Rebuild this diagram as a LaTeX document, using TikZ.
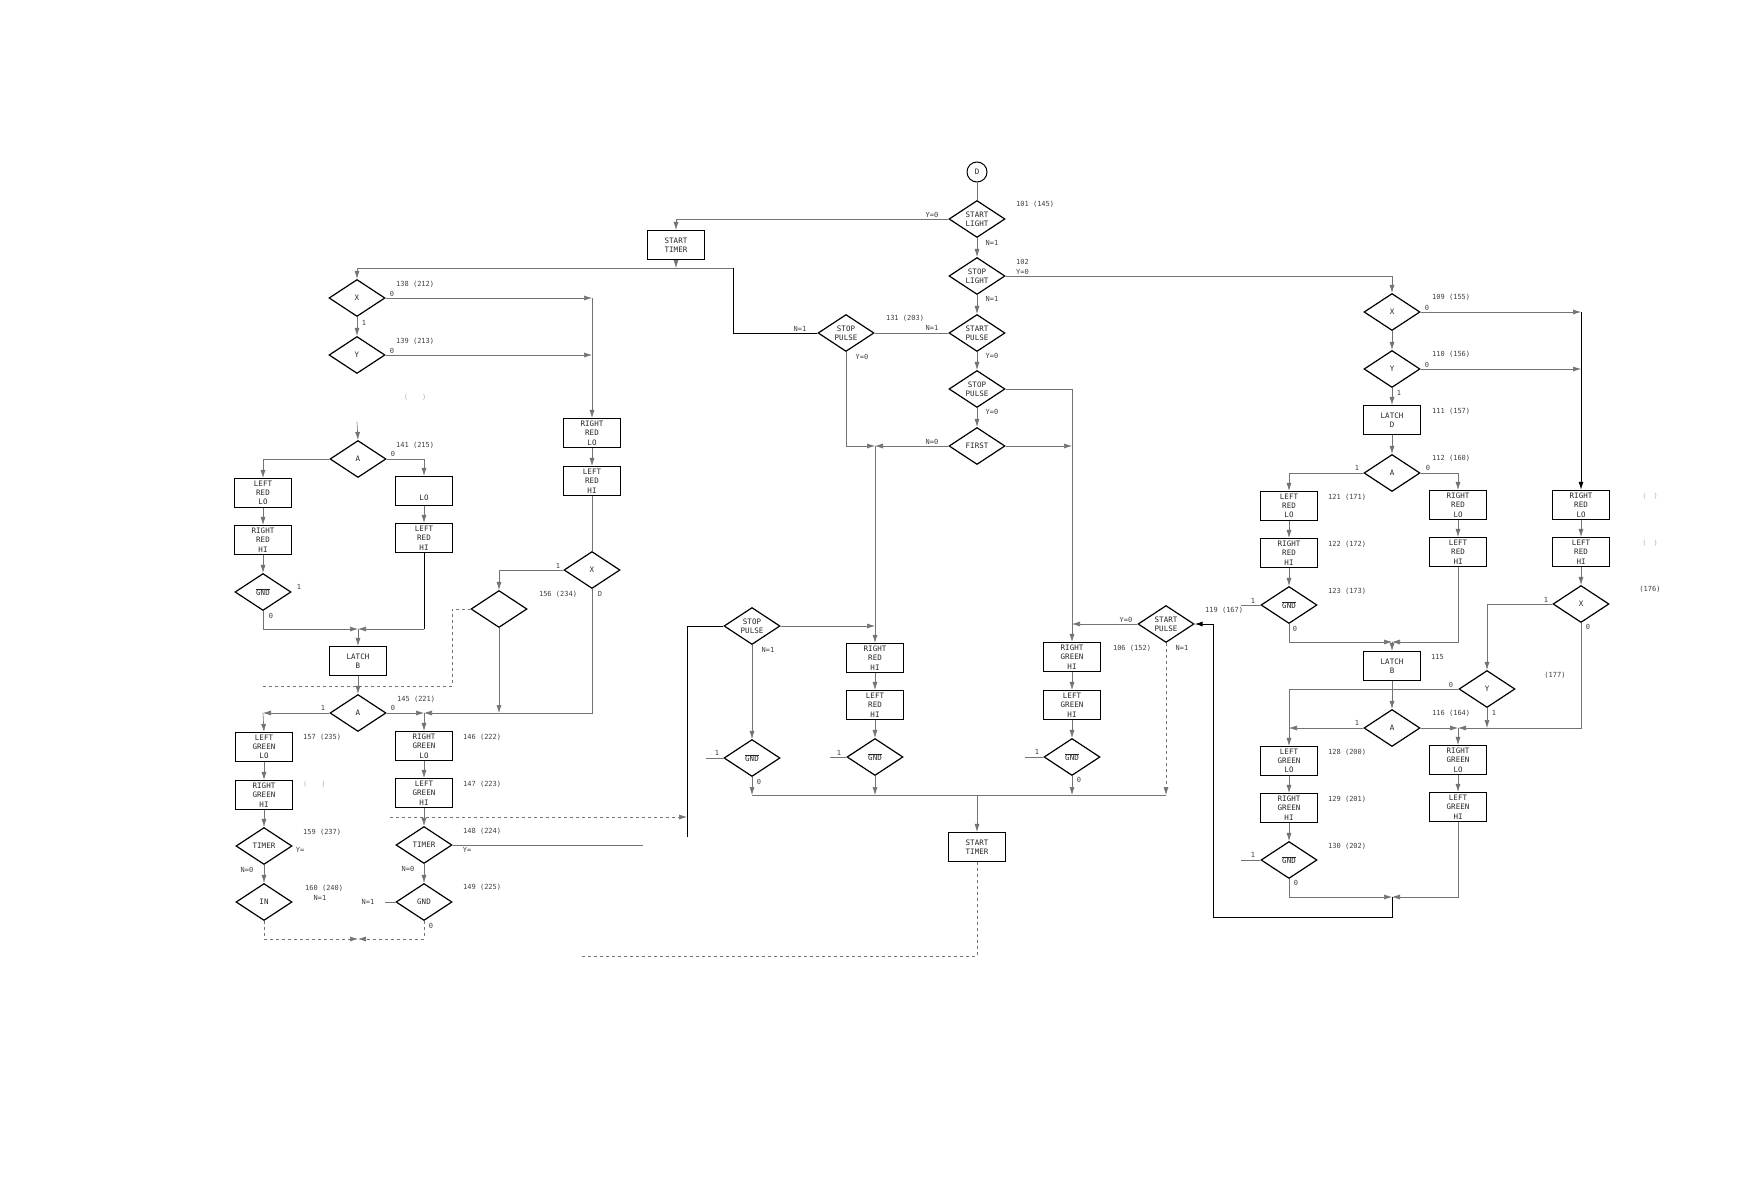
\documentclass[tikz,border=0pt]{standalone}
\usepackage{fontspec}
\usetikzlibrary{arrows.meta,shapes.geometric,calc}
\newfontfamily\lblfont{DejaVu Sans Mono}
\newcommand{\gndbar}{$\overline{\hbox{GND}}$}
\begin{document}
\begin{tikzpicture}[x=1pt,y=-1pt,
  every node/.style={font=\lblfont\fontsize{7.5}{9.3}\selectfont, text=black!85},
  box/.style={draw=black, line width=1.2pt, rectangle, minimum width=57pt, minimum height=29pt, inner sep=0pt, align=center},
  dia/.style={draw=black, line width=1.2pt, diamond, aspect=1.5, minimum width=56pt, minimum height=37pt, inner sep=0pt, align=center},
  conn/.style={draw=black!55, line width=0.6pt},
  bold/.style={draw=black, line width=1pt},
  arr/.style={conn, -{Latex[length=8pt,width=5pt]}},
  barr/.style={bold, -{Latex[length=8pt,width=5pt]}},
  lab/.style={inner sep=0pt, text=black!75, font=\lblfont\fontsize{7}{8}\selectfont},
  faint/.style={lab, text=black!30},
]
\useasboundingbox[fill=white] (0,0) rectangle (1754,1188);

% ---------- main column ----------
\node[draw, circle, line width=1pt, minimum size=20pt, inner sep=0pt] (D) at (977,172) {D};
\node[dia] (sl1) at (977,219) {START\\LIGHT};
\node[dia] (sl2) at (977,276) {STOP\\LIGHT};
\node[dia] (sp1) at (977,333) {START\\PULSE};
\node[dia] (sp2) at (977,389) {STOP\\PULSE};
\node[dia] (first) at (977,446) {FIRST};
\node[box] (st1) at (676,245) {START\\TIMER};
\node[dia] (spL) at (846,333) {STOP\\PULSE};
\node[box] (st2) at (977,847) {START\\TIMER};

% ---------- middle ----------
\node[dia] (spL2) at (752,626) {STOP\\PULSE};
\node[box] (rrhiC) at (875,658) {RIGHT\\RED\\HI};
\node[box] (lrhiC) at (875,705) {LEFT\\RED\\HI};
\node[dia] (gndC1) at (752,758) {\gndbar};
\node[dia] (gndC2) at (875,757) {\gndbar};

% ---------- right part ----------
\node[dia] (x109) at (1392,312) {X};
\node[dia] (y110) at (1392,369) {Y};
\node[box] (latchD) at (1392,420) {LATCH\\D};
\node[dia] (a112) at (1392,473) {A};
\node[box] (rrlo1) at (1458,505) {RIGHT\\RED\\LO};
\node[box] (lrhi1) at (1458,552) {LEFT\\RED\\HI};
\node[box] (lrlo2) at (1289,506) {LEFT\\RED\\LO};
\node[box] (rrhi2) at (1289,553) {RIGHT\\RED\\HI};
\node[dia] (gnd123) at (1289,605) {\gndbar};
\node[box] (latchB2) at (1392,666) {LATCH\\B};
\node[dia] (a116) at (1392,728) {A};
\node[box] (rglo) at (1458,760) {RIGHT\\GREEN\\LO};
\node[box] (lghi) at (1458,807) {LEFT\\GREEN\\HI};
\node[box] (lglo) at (1289,761) {LEFT\\GREEN\\LO};
\node[box] (rghi2) at (1289,808) {RIGHT\\GREEN\\HI};
\node[dia] (gnd130) at (1289,860) {\gndbar};
\node[box] (rrlo3) at (1581,505) {RIGHT\\RED\\LO};
\node[box] (lrhi3) at (1581,552) {LEFT\\RED\\HI};
\node[dia] (x3) at (1581,604) {X};
\node[dia] (y3) at (1487,689) {Y};
\node[dia] (sp106) at (1166,624) {START\\PULSE};
\node[box] (rghi) at (1072,657) {RIGHT\\GREEN\\HI};
\node[box] (lghi106) at (1072,705) {LEFT\\GREEN\\HI};
\node[dia] (gnd106) at (1072,757) {\gndbar};

% ---------- left part ----------
\node[dia] (x138) at (357,298) {X};
\node[dia] (y139) at (357,355) {Y};
\node[dia] (a141) at (358,459) {A};
\node[box] (llroL) at (263,493) {LEFT\\RED\\LO};
\node[box] (rrhiL2) at (263,540) {RIGHT\\RED\\HI};
\node[dia] (gndL) at (263,592) {\gndbar};
\node[box] (loBox) at (424,491) {~\\~\\LO};
\node[box] (lrhiL2) at (424,538) {LEFT\\RED\\HI};
\node[box] (rrloL) at (592,433) {RIGHT\\RED\\LO};
\node[box] (lrhiL) at (592,481) {LEFT\\RED\\HI};
\node[dia] (xL) at (592,570) {X};
\node[dia] (blank) at (499,609) {};
\node[box] (latchB) at (358,661) {LATCH\\B};
\node[dia] (a145) at (358,713) {A};
\node[box] (lgloL) at (264,747) {LEFT\\GREEN\\LO};
\node[box] (rghiL) at (264,795) {RIGHT\\GREEN\\HI};
\node[dia] (timerL) at (264,846) {TIMER};
\node[dia] (inL) at (264,902) {IN};
\node[box] (rgloL) at (424,746) {RIGHT\\GREEN\\LO};
\node[box] (lghiL) at (424,793) {LEFT\\GREEN\\HI};
\node[dia] (timerR) at (424,845) {TIMER};
\node[dia] (gnd149) at (424,902) {GND};

% ---------- coordinates ----------
\coordinate (jT) at (676,268);
\coordinate (cL) at (733,268);
\coordinate (jF) at (875,446);
\coordinate (jB) at (1392,642);
\coordinate (jG) at (1458,728);
\coordinate (jE) at (1392,897);
\coordinate (lpA) at (1392,917);
\coordinate (lpB) at (1213,917);
\coordinate (jM) at (977,795);
\coordinate (cB1) at (977,956);
\coordinate (cB2) at (582,956);
\coordinate (cS1) at (687,626);
\coordinate (cS2) at (687,837);
\coordinate (cD1) at (390,817);
\coordinate (cY1) at (643,845);
\coordinate (cA) at (357,422);
\coordinate (jL) at (358,629);
\coordinate (c686a) at (263,686);
\coordinate (c686b) at (452,686);
\coordinate (c609) at (452,609);
\coordinate (jL2) at (424,713);
\coordinate (cLG) at (263,713);
\coordinate (jL3) at (358,939);

% ---------- connectors: main ----------
\draw[conn] (D) -- (sl1);
\draw[arr] (sl1) -- (sl2);
\draw[arr] (sl2) -- (sp1);
\draw[arr] (sp1) -- (sp2);
\draw[arr] (sp2) -- (first);
\draw[arr] (sl1.west) -| (st1.north);
\draw[arr] (st1.south) -- (jT);
\draw[bold] (spL.west) -| (cL);
\draw[arr] (cL) -| (x138.north);
\draw[conn] (sp1.west) -- (spL.east);
\draw[arr] (spL.south) |- (jF);
\draw[arr] (first.west) -- (jF);
\draw[arr] (jF) -- (rrhiC.north);
\draw[arr] (sp2.east) -| (rghi.north);
\draw[arr] (first.east) -- (first.east -| rghi.north);
\draw[arr] (sl2.east) -| (x109.north);

% ---------- connectors: right ----------
\draw[arr] (x109) -- (y110);
\draw[arr] (y110) -- (latchD);
\draw[arr] (latchD) -- (a112);
\draw[arr] (x109.east) -- (x109.east -| rrlo3.north);
\draw[arr] (y110.east) -- (y110.east -| rrlo3.north);
\draw[barr] (x109.east -| rrlo3.north) -- (rrlo3.north);
\draw[arr] (a112.east) -| (rrlo1.north);
\draw[arr] (a112.west) -| (lrlo2.north);
\draw[arr] (rrlo1) -- (lrhi1);
\draw[arr] (lrlo2) -- (rrhi2);
\draw[arr] (rrhi2) -- (gnd123);
\draw[arr] (lrhi1.south) |- (jB);
\draw[arr] (gnd123.south) |- (jB);
\draw[arr] (jB) -- (latchB2.north);
\draw[conn] (gnd123.west) -- ++(-19,0);
\draw[arr] (rrlo3) -- (lrhi3);
\draw[arr] (lrhi3) -- (x3);
\draw[arr] (x3.west) -| (y3.north);
\draw[arr] (a116.east) -- (jG);
\draw[arr] (x3.south) |- (jG);
\draw[arr] (y3.south) -- (y3.south |- jG);
\draw[arr] (jG) -- (rglo.north);
\draw[arr] (y3.west) -| (lglo.north);
\draw[arr] (a116.west) -- (a116.west -| lglo.north);
\draw[arr] (latchB2) -- (a116);
\draw[arr] (rglo) -- (lghi);
\draw[arr] (lglo) -- (rghi2);
\draw[arr] (rghi2) -- (gnd130);
\draw[arr] (lghi.south) |- (jE);
\draw[arr] (gnd130.south) |- (jE);
\draw[barr] (jE) -- (lpA) -- (lpB) |- (sp106.east);
\draw[conn] (gnd130.west) -- ++(-19,0);
\draw[arr] (sp106.west) -- (sp106.west -| rghi.north);
\draw[arr, dashed] (sp106.south) -- (sp106.south |- jM);
\draw[arr] (rghi) -- (lghi106);
\draw[arr] (lghi106) -- (gnd106);
\draw[arr] (gnd106.south) -- (gnd106.south |- jM);
\draw[conn] (gnd106.west) -- ++(-18,0);

% ---------- connectors: middle ----------
\draw[arr] (spL2.east) -- (spL2.east -| rrhiC.north);
\draw[arr] (spL2) -- (gndC1);
\draw[bold] (spL2.west) -- (cS1) -- (cS2);
\draw[arr] (rrhiC) -- (lrhiC);
\draw[arr] (lrhiC) -- (gndC2);
\draw[arr] (gndC1.south) -- (gndC1.south |- jM);
\draw[arr] (gndC2.south) -- (gndC2.south |- jM);
\draw[conn] (gndC1.south |- jM) -- (sp106.south |- jM);
\draw[arr] (jM) -- (st2.north);
\draw[conn, dashed] (st2.south) -- (cB1) -- (cB2);
\draw[conn] (gndC1.west) -- ++(-17,0);
\draw[conn] (gndC2.west) -- ++(-16,0);
\draw[arr, dashed] (cD1) -- (cD1 -| cS1);
\draw[conn] (timerR.east) -- (cY1);

% ---------- connectors: left ----------
\draw[arr] (x138) -- (y139);
\draw[arr] (x138.east) -- (x138.east -| rrloL.north);
\draw[arr] (y139.east) -- (y139.east -| rrloL.north);
\draw[arr] (x138.east -| rrloL.north) -- (rrloL.north);
\draw[arr] (rrloL) -- (lrhiL);
\draw[conn] (lrhiL) -- (xL);
\draw[arr] (cA) -- (a141.north);
\draw[arr] (a141.west) -| (llroL.north);
\draw[arr] (a141.east) -| (loBox.north);
\draw[arr] (llroL) -- (rrhiL2);
\draw[arr] (rrhiL2) -- (gndL);
\draw[arr] (loBox) -- (lrhiL2);
\draw[arr] (gndL.south) |- (jL);
\draw[bold] (lrhiL2.south) -- (lrhiL2.south |- jL);
\draw[arr] (lrhiL2.south |- jL) -- (jL);
\draw[arr] (jL) -- (latchB.north);
\draw[arr] (latchB) -- (a145);
\draw[conn, dashed] (c686a) -- (c686b) -- (c609) -- (blank.west);
\draw[arr] (xL.west) -| (blank.north);
\draw[arr] (blank.south) -- (blank.south |- jL2);
\draw[arr] (xL.south) |- (jL2);
\draw[arr] (a145.east) -- (jL2);
\draw[arr] (jL2) -- (rgloL.north);
\draw[arr] (a145.west) -- (cLG);
\draw[arr] (cLG) -- (lgloL.north);
\draw[arr] (lgloL) -- (rghiL);
\draw[arr] (rghiL) -- (timerL);
\draw[arr] (timerL) -- (inL);
\draw[arr] (rgloL) -- (lghiL);
\draw[arr] (lghiL) -- (timerR);
\draw[arr] (timerR) -- (gnd149);
\draw[arr, dashed] (inL.south) |- (jL3);
\draw[arr, dashed] (gnd149.south) |- (jL3);
\draw[conn] (gnd149.west) -- ++(-10,0);

% ---------- labels: main ----------
\node[lab, anchor=west] (t1) at (1016,204) {101 (145)};
\node[lab] (t2) at (932,215) {Y=0};
\node[lab] (t3) at (992,243) {N=1};
\node[lab] (t4) at (992,299) {N=1};
\node[lab, anchor=west] (t5) at (1016,262) {102};
\node[lab, anchor=west] (t6) at (1016,272) {Y=0};
\node[lab] (t7) at (905,318) {131 (203)};
\node[lab] (t8) at (932,328) {N=1};
\node[lab] (t9) at (800,329) {N=1};
\node[lab] (t10) at (862,357) {Y=0};
\node[lab] (t11) at (992,356) {Y=0};
\node[lab] (t12) at (992,412) {Y=0};
\node[lab] (t13) at (932,442) {N=0};

% ---------- labels: middle ----------
\node[lab] (m1) at (768,650) {N=1};
\node[lab] (m2) at (717,753) {1};
\node[lab] (m3) at (759,782) {0};
\node[lab] (m4) at (839,753) {1};

% ---------- labels: right ----------
\node[lab, anchor=west] (r1) at (1432,297) {109 (155)};
\node[lab] (r2) at (1427,308) {0};
\node[lab, anchor=west] (r3) at (1432,354) {110 (156)};
\node[lab] (r4) at (1427,365) {0};
\node[lab] (r5) at (1399,393) {1};
\node[lab, anchor=west] (r6) at (1432,411) {111 (157)};
\node[lab, anchor=west] (r7) at (1432,458) {112 (160)};
\node[lab] (r8) at (1428,468) {0};
\node[lab] (r9) at (1357,468) {1};
\node[lab, anchor=west] (r10) at (1328,497) {121 (171)};
\node[lab, anchor=west] (r11) at (1328,544) {122 (172)};
\node[lab, anchor=west] (r12) at (1328,591) {123 (173)};
\node[lab] (r13) at (1253,601) {1};
\node[lab] (r14) at (1295,629) {0};
\node[lab, anchor=west] (r15) at (1205,610) {119 (167)};
\node[lab] (r16) at (1126,620) {Y=0};
\node[lab] (r17) at (1132,648) {106 (152)};
\node[lab] (r18) at (1182,648) {N=1};
\node[lab, anchor=west] (r19) at (1431,657) {115};
\node[lab, anchor=west] (r20) at (1432,713) {116 (164)};
\node[lab] (r21) at (1451,685) {0};
\node[lab] (r22) at (1494,713) {1};
\node[lab] (r23) at (1546,600) {1};
\node[lab] (r24) at (1588,627) {0};
\node[lab] (r25) at (1555,675) {(177)};
\node[lab] (r26) at (1650,589) {(176)};
\node[faint] (r27) at (1650,496) {(\quad)};
\node[faint] (r28) at (1650,543) {(\quad)};
\node[lab] (r29) at (1357,723) {1};
\node[lab, anchor=west] (r30) at (1328,752) {128 (200)};
\node[lab, anchor=west] (r31) at (1328,799) {129 (201)};
\node[lab, anchor=west] (r32) at (1328,846) {130 (202)};
\node[lab] (r33) at (1253,855) {1};
\node[lab] (r34) at (1296,883) {0};
\node[lab] (r35) at (1037,752) {1};
\node[lab] (r36) at (1079,780) {0};

% ---------- labels: left ----------
\node[lab, anchor=west] (s1) at (396,284) {138 (212)};
\node[lab] (s2) at (392,294) {0};
\node[lab] (s3) at (364,323) {1};
\node[lab, anchor=west] (s4) at (396,341) {139 (213)};
\node[lab] (s5) at (392,351) {0};
\node[faint] (s6) at (415,397) {(\qquad)};
\node[lab, anchor=west] (s7) at (396,445) {141 (215)};
\node[lab] (s8) at (393,454) {0};
\node[lab] (s9) at (299,587) {1};
\node[lab] (s10) at (271,616) {0};
\node[lab] (s11) at (558,566) {1};
\node[lab] (s12) at (558,594) {156 (234)};
\node[lab] (s13) at (600,594) {D};
\node[lab, anchor=west] (s14) at (397,699) {145 (221)};
\node[lab] (s15) at (393,708) {0};
\node[lab] (s16) at (323,708) {1};
\node[lab, anchor=west] (s17) at (303,737) {157 (235)};
\node[faint, anchor=west] (s18) at (303,784) {(\qquad)};
\node[lab, anchor=west] (s19) at (303,832) {159 (237)};
\node[lab] (s20) at (300,850) {Y=};
\node[lab] (s21) at (247,870) {N=0};
\node[lab, anchor=west] (s22) at (305,888) {160 (240)};
\node[lab] (s23) at (320,898) {N=1};
\node[lab, anchor=west] (s24) at (463,737) {146 (222)};
\node[lab, anchor=west] (s25) at (463,784) {147 (223)};
\node[lab, anchor=west] (s26) at (463,831) {148 (224)};
\node[lab] (s27) at (467,850) {Y=};
\node[lab] (s28) at (408,869) {N=0};
\node[lab, anchor=west] (s29) at (463,887) {149 (225)};
\node[lab] (s30) at (368,902) {N=1};
\node[lab] (s31) at (431,926) {0};
\end{tikzpicture}
\end{document}
